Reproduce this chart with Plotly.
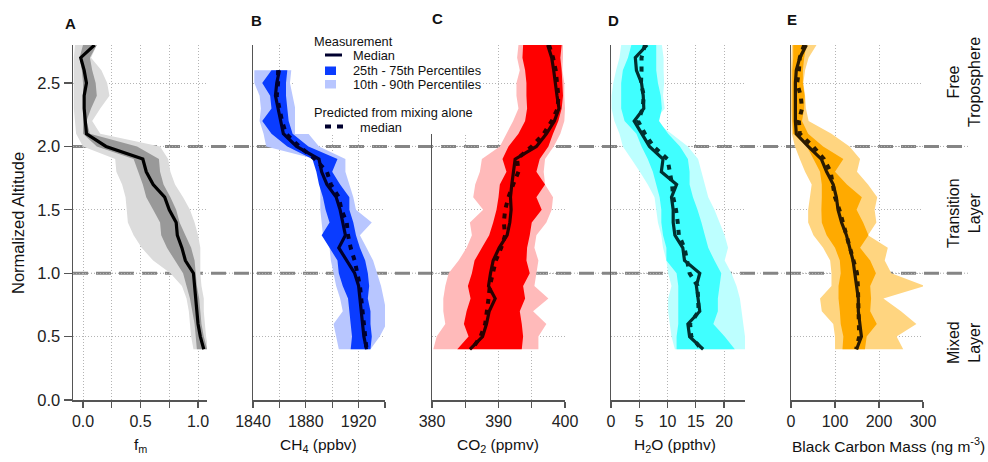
import plotly.graph_objects as go

W, H = 988, 462


def px(x):
    return x / W


def py(y):
    return 1 - y / H


# ---------------- data ----------------
alt_full = [2.8, 2.7, 2.6, 2.5, 2.4, 2.3, 2.2, 2.1, 2.0, 1.9, 1.8, 1.7, 1.6,
            1.5, 1.4, 1.3, 1.2, 1.1, 1.0, 0.9, 0.8, 0.7, 0.6, 0.5, 0.4]
alt_ch4 = [2.6, 2.5, 2.4, 2.3, 2.2, 2.1, 2.0, 1.9, 1.8, 1.7, 1.6,
           1.5, 1.4, 1.3, 1.2, 1.1, 1.0, 0.9, 0.8, 0.7, 0.6, 0.5, 0.4]

# Panel A: fraction fm
fm_med = [0.10, -0.02, 0.01, 0.03, 0.01, 0.01, 0.02, 0.03, 0.20, 0.52, 0.55, 0.61, 0.71,
          0.75, 0.81, 0.82, 0.86, 0.89, 0.96, 0.97, 0.98, 0.99, 1.00, 1.02, 1.05]
fm_p25 = [0.00, -0.03, -0.01, 0.00, 0.00, 0.00, 0.00, 0.00, 0.12, 0.44, 0.48, 0.52, 0.55,
          0.61, 0.67, 0.68, 0.73, 0.80, 0.87, 0.90, 0.93, 0.95, 0.97, 0.98, 0.99]
fm_p75 = [0.12, 0.06, 0.08, 0.11, 0.12, 0.07, 0.03, 0.06, 0.47, 0.66, 0.67, 0.70, 0.76,
          0.81, 0.84, 0.89, 0.94, 0.97, 0.98, 0.99, 1.01, 1.02, 1.03, 1.05, 1.08]
fm_p10 = [-0.07, -0.08, -0.08, -0.08, -0.08, -0.08, -0.07, -0.06, 0.00, 0.28, 0.29, 0.34, 0.37,
          0.38, 0.39, 0.44, 0.51, 0.61, 0.76, 0.86, 0.90, 0.92, 0.93, 0.94, 0.96]
fm_p90 = [0.12, 0.07, 0.16, 0.21, 0.23, 0.15, 0.08, 0.15, 0.67, 0.74, 0.76, 0.80, 0.87,
          0.93, 0.97, 1.00, 1.02, 1.02, 1.02, 1.03, 1.05, 1.05, 1.06, 1.07, 1.09]

# Panel B: CH4 (ppbv)
ch4_med = [1860, 1858, 1857, 1859, 1861, 1863, 1873, 1890, 1892, 1896, 1903, 1906,
           1908, 1910, 1905, 1911, 1917, 1920, 1921, 1922, 1923, 1924, 1926]
ch4_pred = [1859, 1859, 1858, 1860, 1862, 1865, 1875, 1887, 1896, 1899, 1905, 1907,
            1911, 1912, 1914, 1917, 1919, 1921, 1922, 1923, 1924, 1925, 1926]
ch4_p25 = [1854, 1847, 1853, 1854, 1847, 1854, 1866, 1885, 1888, 1890, 1893, 1895,
           1898, 1892, 1898, 1904, 1905, 1908, 1912, 1913, 1914, 1915, 1914]
ch4_p75 = [1866, 1865, 1865, 1866, 1867, 1870, 1882, 1904, 1900, 1906, 1913, 1913,
           1916, 1918, 1921, 1925, 1927, 1928, 1927, 1929, 1929, 1930, 1929]
ch4_p10 = [1841, 1841, 1845, 1846, 1845, 1848, 1850, 1887, 1889, 1891, 1891, 1891,
           1892, 1893, 1898, 1899, 1901, 1903, 1906, 1908, 1901, 1903, 1905]
ch4_p90 = [1869, 1868, 1870, 1872, 1876, 1882, 1890, 1910, 1910, 1913, 1916, 1918,
           1930, 1921, 1926, 1931, 1934, 1937, 1939, 1941, 1941, 1936, 1929]

# Panel C: CO2 (ppmv)
co2_med = [397.4, 398.0, 398.3, 398.5, 398.8, 399.1, 398.4, 397.2, 395.7, 392.5, 392.2, 392.0, 391.8,
           391.9, 391.7, 391.3, 390.1, 389.2, 388.8, 388.5, 389.5, 388.6, 388.2, 387.6, 385.7]
co2_pred = [397.6, 398.2, 398.6, 398.8, 399.0, 398.9, 398.0, 396.8, 395.0, 392.8, 393.0, 392.2, 391.5,
            391.0, 390.8, 391.0, 390.4, 389.6, 389.2, 388.7, 388.5, 388.2, 388.0, 387.3, 386.0]
co2_p25 = [393.7, 393.6, 394.0, 394.2, 394.2, 394.3, 394.0, 393.0, 391.5, 390.6, 391.2, 390.2, 390.0,
           389.7, 389.2, 388.6, 387.5, 386.4, 386.0, 385.4, 385.8, 385.2, 384.8, 385.5, 383.8]
co2_p75 = [399.5, 399.3, 399.5, 399.6, 399.7, 399.5, 399.0, 398.2, 397.5, 396.2, 395.7, 397.0, 395.7,
           396.5, 395.0, 394.7, 394.3, 394.2, 394.7, 393.7, 394.0, 393.2, 393.5, 393.7, 393.5]
co2_p10 = [393.0, 392.8, 393.2, 392.7, 392.7, 393.0, 392.2, 391.2, 390.2, 387.5, 387.2, 386.5, 386.2,
           387.7, 385.7, 386.0, 385.2, 384.0, 382.5, 382.0, 381.7, 381.7, 382.0, 380.7, 380.2]
co2_p90 = [399.7, 399.7, 399.6, 399.9, 399.9, 400.0, 399.9, 399.3, 398.3, 397.0, 396.8, 397.0, 398.2,
           398.0, 397.2, 395.7, 395.4, 396.0, 395.7, 395.4, 397.5, 395.2, 397.2, 396.0, 396.0]

# Panel D: H2O (ppthv)
h2o_med = [6.4, 4.3, 4.5, 5.4, 5.7, 5.8, 4.1, 5.4, 6.8, 9.2, 8.9, 11.6, 10.7,
           11.0, 11.0, 11.3, 12.7, 13.0, 15.7, 15.1, 15.4, 15.7, 13.6, 13.9, 16.3]
h2o_pred = [6.0, 5.4, 5.4, 5.3, 5.8, 5.6, 4.8, 6.0, 7.5, 10.0, 10.4, 10.8, 11.0,
            11.5, 11.8, 12.0, 13.0, 13.4, 13.9, 15.3, 15.4, 15.5, 14.0, 14.2, 16.0]
h2o_p25 = [3.6, 3.0, 2.1, 1.8, 1.8, 1.8, 2.4, 4.5, 5.4, 6.5, 7.4, 8.0, 8.6,
           8.9, 8.9, 9.2, 9.8, 9.8, 11.6, 11.9, 11.9, 11.9, 11.9, 11.6, 11.6]
h2o_p75 = [8.0, 8.0, 8.0, 8.3, 8.8, 9.0, 8.5, 10.1, 12.2, 13.6, 13.9, 13.9, 14.5,
           15.3, 16.0, 16.6, 17.2, 18.3, 19.5, 19.2, 18.9, 18.9, 18.1, 20.1, 21.9]
h2o_p10 = [1.8, 1.5, 0.9, 0.4, 0.1, 0.1, 0.6, 1.5, 2.1, 3.6, 5.1, 6.5, 7.7,
           8.0, 8.3, 8.9, 9.2, 9.8, 10.1, 10.7, 10.1, 10.1, 10.4, 10.7, 11.3]
h2o_p90 = [9.0, 9.3, 9.3, 9.4, 9.2, 9.5, 7.7, 10.7, 13.6, 15.4, 16.0, 16.6, 17.2,
           18.3, 19.2, 20.1, 20.7, 20.1, 21.3, 22.2, 22.8, 23.1, 23.4, 23.7, 23.7]

# Panel E: Black carbon mass (ng m-3)
bc_med = [35, 20, 12, 10, 10, 10, 10, 12, 39, 69, 81, 96, 103,
          107, 115, 126, 134, 141, 145, 149, 153, 153, 157, 160, 149]
bc_pred = [30, 20, 18, 14, 22, 25, 18, 20, 50, 75, 90, 95, 100,
           110, 118, 125, 135, 143, 150, 152, 153, 152, 153, 155, 148]
bc_p25 = [5, 5, 3, 3, 3, 3, 3, 5, 36, 51, 66, 70, 70,
          69, 70, 81, 100, 111, 113, 108, 108, 111, 113, 119, 117]
bc_p75 = [35, 30, 27, 27, 31, 30, 25, 39, 73, 119, 100, 127, 161,
          149, 164, 176, 157, 180, 193, 180, 182, 180, 195, 172, 168]
bc_p10 = [2, 1, 0, 0, 0, 0, 1, 2, 9, 20, 32, 47, 43,
          39, 39, 51, 73, 89, 92, 92, 66, 70, 96, 100, 100]
bc_p90 = [58, 40, 32, 28, 32, 34, 40, 92, 133, 157, 150, 175, 196,
          190, 194, 175, 220, 213, 228, 304, 210, 250, 285, 240, 255]

# axis ticks (labelled major ticks + unlabelled minor ticks)
y_ticks = [0.0, 0.5, 1.0, 1.5, 2.0, 2.5]
y_ticktext = ["0.0", "0.5", "1.0", "1.5", "2.0", "2.5"]
fm_ticks = [0.0, 0.5, 1.0]
fm_ticktext = ["0.0", "0.5", "1.0"]
fm_minor = [0.25, 0.75]
ch4_ticks = [1840, 1880, 1920]
ch4_ticktext = ["1840", "1880", "1920"]
ch4_minor = [1860, 1900, 1940]
co2_ticks = [380, 390, 400]
co2_ticktext = ["380", "390", "400"]
co2_minor = [385, 395]
h2o_ticks = [0, 5, 10, 15, 20]
h2o_ticktext = ["0", "5", "10", "15", "20"]
bc_ticks = [0, 100, 200, 300]
bc_ticktext = ["0", "100", "200", "300"]

panel_letters = ["A", "B", "C", "D", "E"]
x_titles = ["f<sub>m</sub>", "CH<sub>4</sub> (ppbv)", "CO<sub>2</sub> (ppmv)",
            "H<sub>2</sub>O (ppthv)", "Black Carbon Mass (ng m<sup>-3</sup>)"]
layer_labels = ["Free<br>Troposphere", "Transition<br>Layer", "Mixed<br>Layer"]
legend_texts = ["Measurement", "Median", "25th - 75th Percentiles", "10th - 90th Percentiles",
                "Predicted from mixing alone", "median"]

# ---------------- styling / layout ----------------
FONT = "Liberation Sans, Arial, Helvetica, sans-serif"
GRID = "#b4b4b4"
AXIS = "#555555"
panels = [
    dict(alt=alt_full, med=fm_med, pred=None, p25=fm_p25, p75=fm_p75, p10=fm_p10, p90=fm_p90,
         dark="#999999", light="#dcdcdc", line="#000000",
         xpix=(73, 207), rng=(-0.087, 1.078), tv=fm_ticks, tt=fm_ticktext, mv=fm_minor),
    dict(alt=alt_ch4, med=ch4_med, pred=ch4_pred, p25=ch4_p25, p75=ch4_p75, p10=ch4_p10, p90=ch4_p90,
         dark="#0a3cff", light="#b8c6ff", line="#00002e",
         xpix=(253, 385), rng=(1840, 1940), tv=ch4_ticks, tt=ch4_ticktext, mv=ch4_minor),
    dict(alt=alt_full, med=co2_med, pred=co2_pred, p25=co2_p25, p75=co2_p75, p10=co2_p10, p90=co2_p90,
         dark="#ff0000", light="#ffbaba", line="#2a0000",
         xpix=(432, 565), rng=(380, 400), tv=co2_ticks, tt=co2_ticktext, mv=co2_minor),
    dict(alt=alt_full, med=h2o_med, pred=h2o_pred, p25=h2o_p25, p75=h2o_p75, p10=h2o_p10, p90=h2o_p90,
         dark="#40ffff", light="#bdffff", line="#003030",
         xpix=(611, 745), rng=(0, 23.7), tv=h2o_ticks, tt=h2o_ticktext, mv=None),
    dict(alt=alt_full, med=bc_med, pred=bc_pred, p25=bc_p25, p75=bc_p75, p10=bc_p10, p90=bc_p90,
         dark="#ffaa00", light="#ffd580", line="#2a1a00",
         xpix=(791, 923), rng=(0, 300), tv=bc_ticks, tt=bc_ticktext, mv=None),
]

Y_TOP, Y_BOT = 45, 400
fig = go.Figure()
layout_axes = {}
for i, p in enumerate(panels):
    n = "" if i == 0 else str(i + 1)
    xa, ya = "x" + n, "y" + n
    alt = p["alt"]
    fig.add_trace(go.Scatter(x=p["p10"] + p["p90"][::-1], y=alt + alt[::-1], mode="none",
                             fill="toself", fillcolor=p["light"], xaxis=xa, yaxis=ya,
                             showlegend=False, hoverinfo="skip"))
    fig.add_trace(go.Scatter(x=p["p25"] + p["p75"][::-1], y=alt + alt[::-1], mode="none",
                             fill="toself", fillcolor=p["dark"], xaxis=xa, yaxis=ya,
                             showlegend=False, hoverinfo="skip"))
    if p["pred"] is not None:
        fig.add_trace(go.Scatter(x=p["pred"], y=alt, mode="lines",
                                 line=dict(color=p["line"], width=4, dash="5px,6px"),
                                 xaxis=xa, yaxis=ya, showlegend=False))
    fig.add_trace(go.Scatter(x=p["med"], y=alt, mode="lines",
                             line=dict(color=p["line"], width=3.2),
                             xaxis=xa, yaxis=ya, showlegend=False))

    xdict = dict(
        domain=[px(p["xpix"][0]), px(p["xpix"][1])], range=list(p["rng"]), anchor=ya,
        automargin=False,
        showline=True, linecolor=AXIS, linewidth=1.5, ticks="outside", ticklen=6,
        tickcolor=AXIS, tickwidth=1.2, tickmode="array", tickvals=p["tv"], ticktext=p["tt"],
        showgrid=True, gridcolor=GRID, griddash="1px,2px", gridwidth=1, zeroline=False,
        tickfont=dict(size=16, color="#222222", family=FONT), fixedrange=True)
    if p["mv"] is not None:
        xdict["minor"] = dict(tickmode="array", tickvals=p["mv"], ticks="outside", ticklen=6,
                              tickcolor=AXIS, tickwidth=1.2, showgrid=True, gridcolor=GRID,
                              griddash="1px,2px", gridwidth=1)
    layout_axes["xaxis" + n] = xdict
    layout_axes["yaxis" + n] = dict(
        domain=[py(Y_BOT), py(Y_TOP)], range=[0, 2.8], anchor=xa, automargin=False,
        showline=True, linecolor=AXIS, linewidth=1.5,
        ticks="outside" if i == 0 else "", ticklen=8, tickcolor=AXIS, tickwidth=1.2,
        tickmode="array", tickvals=y_ticks, ticktext=y_ticktext, showticklabels=(i == 0),
        showgrid=True, gridcolor=GRID, griddash="1px,2px", gridwidth=1, zeroline=False,
        tickfont=dict(size=16.5, color="#222222", family=FONT), fixedrange=True)

shapes = []
# layer boundaries (dashed) at 1.0 and 2.0
for yv in (1.0, 2.0):
    shapes.append(dict(type="line", xref="paper", yref="y", x0=px(73), x1=px(968), y0=yv, y1=yv,
                       line=dict(color="#aaaaaa", width=1, dash="1px,2px"), layer="below"))
    shapes.append(dict(type="line", xref="paper", yref="y", x0=px(73), x1=px(968), y0=yv, y1=yv,
                       line=dict(color="#858585", width=3, dash="15px,8px"), layer="below"))

# legend box
shapes.append(dict(type="rect", xref="paper", yref="paper", x0=px(295), x1=px(482),
                   y0=py(134), y1=py(28), fillcolor="white", line=dict(width=0), layer="above"))
shapes.append(dict(type="line", xref="paper", yref="paper", x0=px(325), x1=px(342),
                   y0=py(55), y1=py(55), line=dict(color="#00002e", width=3), layer="above"))
shapes.append(dict(type="rect", xref="paper", yref="paper", x0=px(325), x1=px(336),
                   y0=py(75), y1=py(66.5), fillcolor="#0a3cff", line=dict(width=0), layer="above"))
shapes.append(dict(type="rect", xref="paper", yref="paper", x0=px(325), x1=px(336),
                   y0=py(88.5), y1=py(80), fillcolor="#b8c6ff", line=dict(width=0), layer="above"))
shapes.append(dict(type="line", xref="paper", yref="paper", x0=px(325), x1=px(343),
                   y0=py(126.5), y1=py(126.5),
                   line=dict(color="#00002e", width=4, dash="6px,6px"), layer="above"))

annotations = []
tfont = dict(family=FONT, size=15.5, color="#111111")
# panel letters
for letter, xp, yp in zip(panel_letters, [70, 256, 437, 613, 792], [23, 21, 19, 21, 20]):
    annotations.append(dict(text="<b>" + letter + "</b>", x=px(xp), y=py(yp), xref="paper",
                            yref="paper", showarrow=False, xanchor="center", yanchor="middle",
                            font=dict(family=FONT, size=15, color="#111111")))
# x-axis titles
for t, xp in zip(x_titles[:4], [140, 318, 498, 675]):
    annotations.append(dict(text=t, x=px(xp), y=py(445), xref="paper", yref="paper",
                            showarrow=False, xanchor="center", yanchor="middle", font=tfont))
annotations.append(dict(text=x_titles[4], x=px(987), y=py(445), xref="paper", yref="paper",
                        showarrow=False, xanchor="right", yanchor="middle", font=tfont))
# y title
annotations.append(dict(text="Normalized Altitude", x=px(18), y=py(223), xref="paper", yref="paper",
                        showarrow=False, textangle=-90, xanchor="center", yanchor="middle",
                        font=dict(family=FONT, size=16.5, color="#111111")))
# layer labels
for t, yp in zip(layer_labels, [82, 213, 343]):
    annotations.append(dict(text=t, x=px(964), y=py(yp), xref="paper", yref="paper",
                            showarrow=False, textangle=-90, xanchor="center", yanchor="middle",
                            font=dict(family=FONT, size=16, color="#111111")))
# legend texts
lfont = dict(family=FONT, size=12.8, color="#111111")
leg_pos = [(312, 41.5), (351, 55), (351, 70.5), (351, 84.5), (312, 112), (358, 127)]
for t, (xp, yp) in zip(legend_texts, leg_pos):
    annotations.append(dict(text=t, x=px(xp), y=py(yp), xref="paper", yref="paper",
                            showarrow=False, xanchor="left", yanchor="middle", font=lfont))

fig.update_layout(
    width=W, height=H, autosize=False,
    margin=dict(l=0, r=0, t=0, b=0, pad=0, autoexpand=False),
    paper_bgcolor="white", plot_bgcolor="rgba(0,0,0,0)",
    font=dict(family=FONT, size=15, color="#111111"),
    showlegend=False, shapes=shapes, annotations=annotations,
    **layout_axes,
)

# remove the browser's default page margin so the 988x462 figure fills the window exactly
fig.write_html("out.html",
               config={"displayModeBar": False, "staticPlot": True},
               post_script="document.body.style.margin='0px';"
                           "document.body.style.overflow='hidden';")
